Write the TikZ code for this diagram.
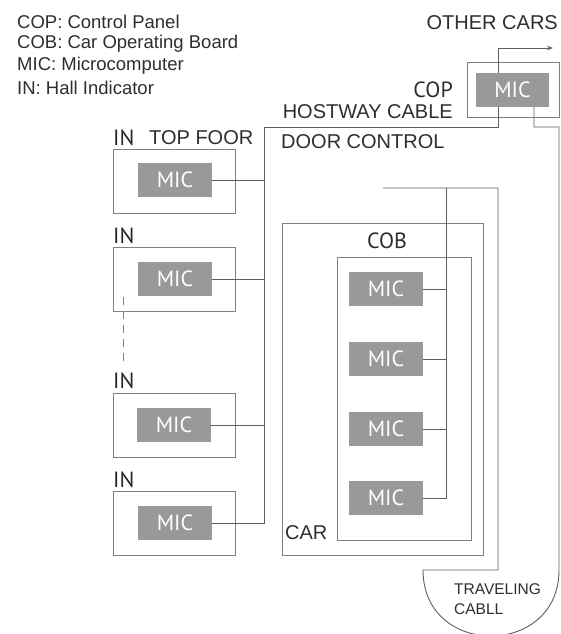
\documentclass[tikz,border=0pt]{standalone}
\usepackage{fontspec}
\setmainfont{Liberation Sans}
\newfontfamily\micfont{PT Sans}
\usetikzlibrary{arrows.meta}
\definecolor{wiregray}{HTML}{5E5E5E}
\definecolor{boxgray}{HTML}{808080}
\definecolor{micgray}{HTML}{999999}
\definecolor{textdark}{HTML}{2E2E2E}
\begin{document}
\begin{tikzpicture}[x=1pt, y=-1pt,
    frame/.style={draw=boxgray, line width=0.9pt, inner sep=0pt},
    mic/.style={fill=micgray, text=white, inner sep=0pt,
        minimum width=74pt, minimum height=34pt,
        font=\micfont\fontsize{22}{22}\selectfont},
    wire/.style={draw=wiregray, line width=0.9pt},
    lbl/.style={text=textdark, inner sep=0pt, font=\fontsize{20}{20}\selectfont},
    inlbl/.style={text=textdark!80!black, inner sep=0pt, anchor=west,
        font=\micfont\fontsize{22}{22}\selectfont},
    legend/.style={text=textdark, inner sep=0pt, anchor=west,
        font=\fontsize{18.5}{18.5}\selectfont}]

    \useasboundingbox (0,0) rectangle (561,634);

    % Legend
    \node[legend] (leg1) at (17,22) {COP: Control Panel};
    \node[legend] (leg2) at (17,44) {COB: Car Operating Board};
    \node[legend] (leg3) at (17,66) {MIC: Microcomputer};
    \node[legend] (leg4) at (17,88) {IN: Hall Indicator};

    % Control panel
    \node[lbl, anchor=east] (other) at (558,23) {OTHER CARS};
    \node[frame, minimum width=92pt, minimum height=55pt] (cop) at (513.5,89.5) {};
    \node[mic, minimum width=73pt] (copmic) at (512.5,90) {MIC};
    \node[lbl, anchor=east, font=\micfont\fontsize{22}{22}\selectfont] (coplbl) at (453,90) {COP};
    \node[lbl, anchor=east] (hostway) at (453,112) {HOSTWAY CABLE};
    \node[lbl, anchor=west] (door) at (281,142) {DOOR CONTROL};
    \coordinate (out) at (553,48);
    \coordinate (outup) at (498,48);
    \draw[wire, -{Stealth[length=6pt, width=4.5pt]}] (copmic.north -| outup) -- (outup) -- (out);

    % Hall indicators
    \node[inlbl] (in1) at (113,138) {IN};
    \node[lbl, anchor=west] (topfloor) at (149,138) {TOP FOOR};
    \node[inlbl] (in2) at (113,236) {IN};
    \node[inlbl] (in3) at (113,381) {IN};
    \node[inlbl] (in4) at (113,480) {IN};
    \node[frame, minimum width=122pt, minimum height=64pt] (box1) at (174,181) {};
    \node[frame, minimum width=122pt, minimum height=64pt] (box2) at (174,279) {};
    \node[frame, minimum width=122pt, minimum height=64pt] (box3) at (174,425) {};
    \node[frame, minimum width=122pt, minimum height=64pt] (box4) at (174,523.5) {};
    \node[mic] (mic1) at (175,180) {MIC};
    \node[mic] (mic2) at (175,279) {MIC};
    \node[mic] (mic3) at (174,425) {MIC};
    \node[mic] (mic4) at (175,523) {MIC};
    \draw[boxgray, line width=0.9pt, dash pattern=on 8pt off 6pt] (123,297) -- (123,362);

    % Hostway cable
    \coordinate (hwtop) at (498,127);
    \coordinate (hwbus) at (264,127);
    \draw[wire] (copmic.south -| hwtop) -- (hwtop) -- (hwbus) -- (mic4.east -| hwbus) -- (mic4.east);
    \foreach \m in {mic1,mic2,mic3}
        \draw[wire] (\m.east) -- (\m.east -| hwbus);

    % Car and car operating board
    \node[frame, minimum width=201pt, minimum height=332pt] (car) at (382.5,389) {};
    \node[lbl, anchor=west] (carlbl) at (285,533) {CAR};
    \node[frame, minimum width=134pt, minimum height=283pt] (cob) at (404,398.5) {};
    \node[lbl, font=\micfont\fontsize{22}{22}\selectfont] (coblbl) at (387,241) {COB};
    \node[mic] (cmic1) at (386,289) {MIC};
    \node[mic] (cmic2) at (386,359) {MIC};
    \node[mic] (cmic3) at (386,429) {MIC};
    \node[mic] (cmic4) at (386,498) {MIC};

    % Door control and traveling cable
    \coordinate (dc) at (383,188);
    \coordinate (dcbus) at (446,188);
    \coordinate (dcright) at (498,188);
    \coordinate (tcleft) at (498,570);
    \coordinate (tcl) at (423,570);
    \coordinate (tcr) at (559,570);
    \coordinate (tctop) at (559,127);
    \coordinate (tcin) at (534,127);
    \draw[wire] (dc) -- (dcright) -- (tcleft) -- (tcl)
        .. controls (423,658) and (559,658) .. (tcr) -- (tctop) -- (tcin) -- (copmic.south -| tcin);
    \draw[wire] (dcbus) -- (cmic4.east -| dcbus) -- (cmic4.east);
    \foreach \m in {cmic1,cmic2,cmic3}
        \draw[wire] (\m.east) -- (\m.east -| dcbus);
    \node[text=textdark, inner sep=0pt, anchor=west, align=left,
        font=\fontsize{15.5}{20}\selectfont] (travel) at (454,599) {TRAVELING\\CABLL};

\end{tikzpicture}
\end{document}
